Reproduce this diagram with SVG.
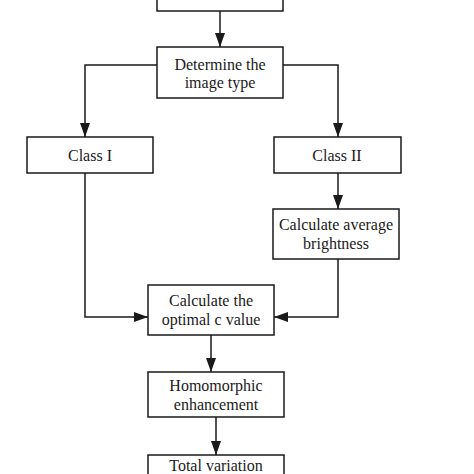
<svg xmlns="http://www.w3.org/2000/svg" width="474" height="474" viewBox="0 0 474 474">
<style>
.box{fill:#fff;stroke:#1a1a1a;stroke-width:1.5}
.t{font-family:"Liberation Serif","Times New Roman",serif;font-size:16px;fill:#1a1a1a;text-anchor:middle}
.c{fill:none;stroke:#1a1a1a;stroke-width:1.5}
</style>
<defs>
<marker id="ah" viewBox="0 0 14 10" refX="14" refY="5" markerWidth="14" markerHeight="10" markerUnits="userSpaceOnUse" orient="auto">
<path d="M0,0 L14,5 L0,10 Z" fill="#1a1a1a"/>
</marker>
</defs>
<rect width="474" height="474" fill="#fff"/>
<g id="connectors">
<path class="c" d="M220,11 V47" marker-end="url(#ah)"/>
<path class="c" d="M157,65 H85 V137" marker-end="url(#ah)"/>
<path class="c" d="M283,65 H338 V137" marker-end="url(#ah)"/>
<path class="c" d="M338,173 V209" marker-end="url(#ah)"/>
<path class="c" d="M85,173 V317 H148" marker-end="url(#ah)"/>
<path class="c" d="M338,259 V317 H274" marker-end="url(#ah)"/>
<path class="c" d="M211,335 V372" marker-end="url(#ah)"/>
<path class="c" d="M216,417 V455" marker-end="url(#ah)"/>
</g>
<g id="top"><rect class="box" x="157" y="-10" width="126" height="21"/></g>
<g id="determine"><rect class="box" x="157" y="47" width="126" height="51"/>
<text class="t" x="220" y="70">Determine the</text><text class="t" x="220" y="88">image type</text></g>
<g id="class1"><rect class="box" x="27" y="137" width="126" height="36"/>
<text class="t" x="90" y="161">Class I</text></g>
<g id="class2"><rect class="box" x="274" y="137" width="127" height="36"/>
<text class="t" x="337" y="161">Class II</text></g>
<g id="avg"><rect class="box" x="273" y="209" width="126" height="50"/>
<text class="t" x="336" y="230">Calculate average</text><text class="t" x="336" y="249">brightness</text></g>
<g id="optimal"><rect class="box" x="148" y="285" width="126" height="50"/>
<text class="t" x="211" y="306">Calculate the</text><text class="t" x="211" y="325">optimal c value</text></g>
<g id="homo"><rect class="box" x="148" y="372" width="136" height="45"/>
<text class="t" x="216" y="391">Homomorphic</text><text class="t" x="216" y="410">enhancement</text></g>
<g id="tv"><rect class="box" x="148" y="455" width="136" height="30"/>
<text class="t" x="216" y="471">Total variation</text></g>
</svg>
